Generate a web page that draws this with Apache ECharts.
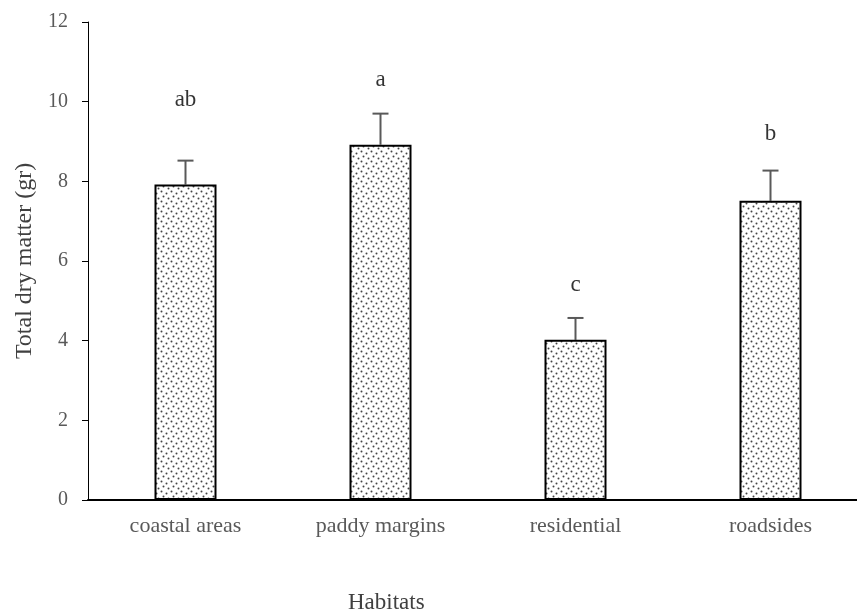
<!DOCTYPE html>
<html><head><meta charset="utf-8">
<script src="https://cdn.jsdelivr.net/npm/echarts@6/dist/echarts.min.js"></script>
<style>html,body{margin:0;padding:0;background:#fff}#c{width:857px;height:613px}</style>
</head><body><div id="c"></div>
<script>
const categories = ['coastal areas', 'paddy margins', 'residential', 'roadsides'];
const means = [7.92, 8.92, 4.02, 7.51];
const errors = [0.60, 0.78, 0.55, 0.76];
const letters = ['ab', 'a', 'c', 'b'];
const letterY = [10.05, 10.55, 5.4, 9.2];
const yTicks = [0, 2, 4, 6, 8, 10, 12];

const pc = document.createElement('canvas');
pc.width = 10; pc.height = 10;
const g = pc.getContext('2d');
g.fillStyle = '#fff'; g.fillRect(0, 0, 10, 10);
g.fillStyle = '#444';
[[1.5, 1.5], [6.5, 3.5], [3.5, 6.5], [8.5, 8.5]].forEach(p => { g.beginPath(); g.arc(p[0], p[1], 1.0, 0, Math.PI * 2); g.fill(); });

const chart = echarts.init(document.getElementById('c'));
const FONT = '"Liberation Serif", "Times New Roman", serif';
chart.setOption({
  animation: false,
  grid: { left: 88, top: 22, bottom: 113, width: 780, containLabel: false, outerBoundsMode: 'none' },
  xAxis: {
    type: 'category', data: categories,
    axisLine: { lineStyle: { color: '#000', width: 2 } },
    axisTick: { show: false },
    axisLabel: { color: '#595959', fontFamily: FONT, fontSize: 22, margin: 15 }
  },
  yAxis: {
    type: 'value', min: 0, max: 12, interval: 2,
    name: 'Total dry matter (gr)', nameLocation: 'middle', nameGap: 51,
    nameTextStyle: { color: '#404040', fontFamily: FONT, fontSize: 24 },
    axisLine: { show: true, lineStyle: { color: '#000', width: 1 } },
    axisTick: { show: true, length: 6, lineStyle: { color: '#000' } },
    splitLine: { show: false },
    axisLabel: { color: '#595959', fontFamily: FONT, fontSize: 20, margin: 20,
      formatter: v => yTicks.includes(v) ? String(v) : '' }
  },
  graphic: [{ type: 'text', left: 348, top: 591,
    style: { text: 'Habitats', fill: '#404040', font: '23px "Liberation Serif", serif' } }],
  series: [
    { type: 'bar', data: means, barWidth: 62,
      itemStyle: { color: { image: pc, repeat: 'repeat' }, borderColor: '#000', borderWidth: 2 } },
    { type: 'custom', z: 1,
      data: means.map((m, i) => [i, m, m + errors[i]]),
      renderItem: (params, api) => {
        const x = api.coord([api.value(0), api.value(1)]);
        const t = api.coord([api.value(0), api.value(2)]);
        const hw = 8;
        const s = { stroke: '#595959', lineWidth: 2 };
        return { type: 'group', children: [
          { type: 'line', shape: { x1: x[0], y1: x[1], x2: t[0], y2: t[1] }, style: s },
          { type: 'line', shape: { x1: t[0] - hw, y1: t[1], x2: t[0] + hw, y2: t[1] }, style: s }
        ] };
      } },
    { type: 'scatter', symbolSize: 0,
      data: letterY.map((v, i) => ({ value: [i, v], label: { show: true, formatter: letters[i] } })),
      label: { position: 'inside', color: '#000', fontFamily: FONT, fontSize: 23 } }
  ]
});
</script></body></html>
